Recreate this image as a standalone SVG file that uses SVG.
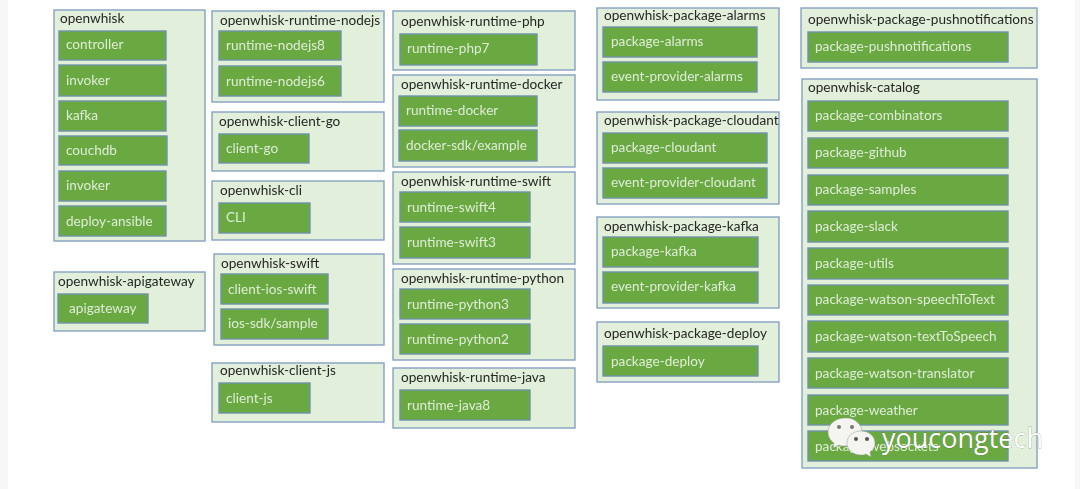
<svg xmlns="http://www.w3.org/2000/svg" width="1080" height="489" viewBox="0 0 1080 489">
<defs><filter id="soft" x="0" y="0" width="100%" height="100%" filterUnits="userSpaceOnUse" primitiveUnits="userSpaceOnUse"><feGaussianBlur stdDeviation="0.4"/></filter></defs>
<style>
.g{fill:#e2efda;stroke:#86a2c4;stroke-width:1.4}
.b{fill:#6aa842;stroke:#6f93a8;stroke-width:1.4}
text{font-family:"Lato","Open Sans",sans-serif}
.t{font-size:13.6px;fill:#262626}
.l{font-size:13.6px;fill:#dfecd6}
.wm{font-family:"Open Sans",sans-serif;font-size:27px;fill:#fff;stroke:#555;stroke-width:.35;paint-order:stroke}
.bub{fill:#f4f4f0;stroke:#9a9a90;stroke-width:.5}
</style>
<rect width="1080" height="489" fill="#fff"/>
<rect width="8" height="489" fill="#f7f7f7"/><rect x="1075" width="5" height="489" fill="#f7f7f7"/>
<g id="nodes" style="filter:url(#soft)">
<g id="openwhisk"><rect class="g" x="54" y="10" width="151" height="231"/><text class="t" x="60" y="23">openwhisk</text>
<rect class="b" x="59" y="31" width="107" height="29"/><text class="l" x="66" y="49">controller</text>
<rect class="b" x="59" y="65" width="107" height="31"/><text class="l" x="66" y="85">invoker</text>
<rect class="b" x="59" y="101" width="107" height="30"/><text class="l" x="66" y="120">kafka</text>
<rect class="b" x="59" y="136" width="108" height="29"/><text class="l" x="66" y="155">couchdb</text>
<rect class="b" x="59" y="171" width="107" height="30"/><text class="l" x="66" y="190">invoker</text>
<rect class="b" x="59" y="206" width="107" height="30"/><text class="l" x="66" y="226">deploy-ansible</text></g>
<g id="openwhisk-apigateway"><rect class="g" x="54" y="272" width="151" height="59"/><text class="t" x="58" y="286">openwhisk-apigateway</text>
<rect class="b" x="58" y="294" width="90" height="29"/><text class="l" x="69" y="313">apigateway</text></g>
<g id="openwhisk-runtime-nodejs"><rect class="g" x="212" y="11" width="172" height="91"/><text class="t" x="220" y="25">openwhisk-runtime-nodejs</text>
<rect class="b" x="219" y="31" width="122" height="29"/><text class="l" x="226" y="50">runtime-nodejs8</text>
<rect class="b" x="219" y="66" width="122" height="30"/><text class="l" x="226" y="86">runtime-nodejs6</text></g>
<g id="openwhisk-client-go"><rect class="g" x="212" y="112" width="172" height="59"/><text class="t" x="219" y="126">openwhisk-client-go</text>
<rect class="b" x="219" y="134" width="90" height="29"/><text class="l" x="226" y="153">client-go</text></g>
<g id="openwhisk-cli"><rect class="g" x="212" y="181" width="172" height="59"/><text class="t" x="220" y="195">openwhisk-cli</text>
<rect class="b" x="219" y="203" width="91" height="30"/><text class="l" x="226" y="222">CLI</text></g>
<g id="openwhisk-swift"><rect class="g" x="214" y="254" width="170" height="91"/><text class="t" x="221" y="268">openwhisk-swift</text>
<rect class="b" x="221" y="274" width="107" height="30"/><text class="l" x="228" y="294">client-ios-swift</text>
<rect class="b" x="221" y="309" width="107" height="30"/><text class="l" x="228" y="328">ios-sdk/sample</text></g>
<g id="openwhisk-client-js"><rect class="g" x="212" y="363" width="172" height="59"/><text class="t" x="220" y="375">openwhisk-client-js</text>
<rect class="b" x="219" y="383" width="91" height="30"/><text class="l" x="226" y="403">client-js</text></g>
<g id="openwhisk-runtime-php"><rect class="g" x="393" y="11" width="182" height="59"/><text class="t" x="401" y="26">openwhisk-runtime-php</text>
<rect class="b" x="400" y="34" width="137" height="31"/><text class="l" x="407" y="53">runtime-php7</text></g>
<g id="openwhisk-runtime-docker"><rect class="g" x="393" y="75" width="182" height="92"/><text class="t" x="401" y="89">openwhisk-runtime-docker</text>
<rect class="b" x="399" y="96" width="138" height="30"/><text class="l" x="406" y="115">runtime-docker</text>
<rect class="b" x="399" y="130" width="138" height="31"/><text class="l" x="406" y="150">docker-sdk/example</text></g>
<g id="openwhisk-runtime-swift"><rect class="g" x="393" y="172" width="182" height="92"/><text class="t" x="401" y="186">openwhisk-runtime-swift</text>
<rect class="b" x="400" y="192" width="130" height="30"/><text class="l" x="407" y="212">runtime-swift4</text>
<rect class="b" x="400" y="227" width="130" height="31"/><text class="l" x="407" y="247">runtime-swift3</text></g>
<g id="openwhisk-runtime-python"><rect class="g" x="393" y="269" width="182" height="91"/><text class="t" x="401" y="283">openwhisk-runtime-python</text>
<rect class="b" x="400" y="289" width="130" height="30"/><text class="l" x="407" y="309">runtime-python3</text>
<rect class="b" x="400" y="324" width="130" height="30"/><text class="l" x="407" y="344">runtime-python2</text></g>
<g id="openwhisk-runtime-java"><rect class="g" x="393" y="368" width="182" height="60"/><text class="t" x="401" y="382">openwhisk-runtime-java</text>
<rect class="b" x="400" y="390" width="130" height="30"/><text class="l" x="407" y="410">runtime-java8</text></g>
<g id="openwhisk-package-alarms"><rect class="g" x="597" y="8" width="182" height="92"/><text class="t" x="604" y="20">openwhisk-package-alarms</text>
<rect class="b" x="603" y="27" width="154" height="30"/><text class="l" x="611" y="46">package-alarms</text>
<rect class="b" x="603" y="62" width="154" height="30"/><text class="l" x="611" y="81">event-provider-alarms</text></g>
<g id="openwhisk-package-cloudant"><rect class="g" x="597" y="112" width="182" height="92"/><text class="t" x="604" y="125">openwhisk-package-cloudant</text>
<rect class="b" x="603" y="133" width="164" height="30"/><text class="l" x="611" y="152">package-cloudant</text>
<rect class="b" x="603" y="168" width="164" height="30"/><text class="l" x="611" y="187">event-provider-cloudant</text></g>
<g id="openwhisk-package-kafka"><rect class="g" x="597" y="217" width="182" height="91"/><text class="t" x="604" y="231">openwhisk-package-kafka</text>
<rect class="b" x="603" y="237" width="155" height="30"/><text class="l" x="611" y="256">package-kafka</text>
<rect class="b" x="603" y="272" width="155" height="31"/><text class="l" x="611" y="291">event-provider-kafka</text></g>
<g id="openwhisk-package-deploy"><rect class="g" x="597" y="322" width="182" height="60"/><text class="t" x="604" y="338">openwhisk-package-deploy</text>
<rect class="b" x="603" y="346" width="155" height="30"/><text class="l" x="611" y="366">package-deploy</text></g>
<g id="openwhisk-package-pushnotifications"><rect class="g" x="801" y="8" width="236" height="60"/><text class="t" x="808" y="24">openwhisk-package-pushnotifications</text>
<rect class="b" x="808" y="32" width="200" height="30"/><text class="l" x="815" y="51">package-pushnotifications</text></g>
<g id="openwhisk-catalog"><rect class="g" x="802" y="79" width="235" height="389"/><text class="t" x="808" y="92">openwhisk-catalog</text>
<rect class="b" x="808" y="101" width="200" height="30"/><text class="l" x="815" y="120">package-combinators</text>
<rect class="b" x="808" y="138" width="200" height="30"/><text class="l" x="815" y="157">package-github</text>
<rect class="b" x="808" y="175" width="200" height="30"/><text class="l" x="815" y="194">package-samples</text>
<rect class="b" x="808" y="211" width="200" height="31"/><text class="l" x="815" y="231">package-slack</text>
<rect class="b" x="808" y="248" width="200" height="31"/><text class="l" x="815" y="268">package-utils</text>
<rect class="b" x="808" y="285" width="200" height="30"/><text class="l" x="815" y="304">package-watson-speechToText</text>
<rect class="b" x="808" y="321" width="200" height="31"/><text class="l" x="815" y="341">package-watson-textToSpeech</text>
<rect class="b" x="808" y="358" width="200" height="30"/><text class="l" x="815" y="378">package-watson-translator</text>
<rect class="b" x="808" y="395" width="200" height="30"/><text class="l" x="815" y="415">package-weather</text>
<rect class="b" x="808" y="431" width="200" height="30"/><text class="l" x="815" y="451">package-websockets</text></g>
</g>
<g id="watermark">
<path class="bub" d="M845 418c-9 0-17 6-17 14 0 5 3 9 6 11l-1 5 6-3c2 1 4 1 6 1 9 0 17-6 17-14s-8-14-15-14z"/>
<path class="bub" d="M861 431c-8 0-14 5-14 12s6 12 14 12c2 0 3 0 5-1l5 3-1-5c3-2 5-5 5-9 0-7-6-12-14-12z"/>
<circle cx="839" cy="427" r="2" fill="#777"/><circle cx="852" cy="427" r="2" fill="#777"/><circle cx="856" cy="439" r="2" fill="#555"/><circle cx="867" cy="439" r="2" fill="#555"/>
<text class="wm" x="882" y="448">youcongtech</text></g>
</svg>
